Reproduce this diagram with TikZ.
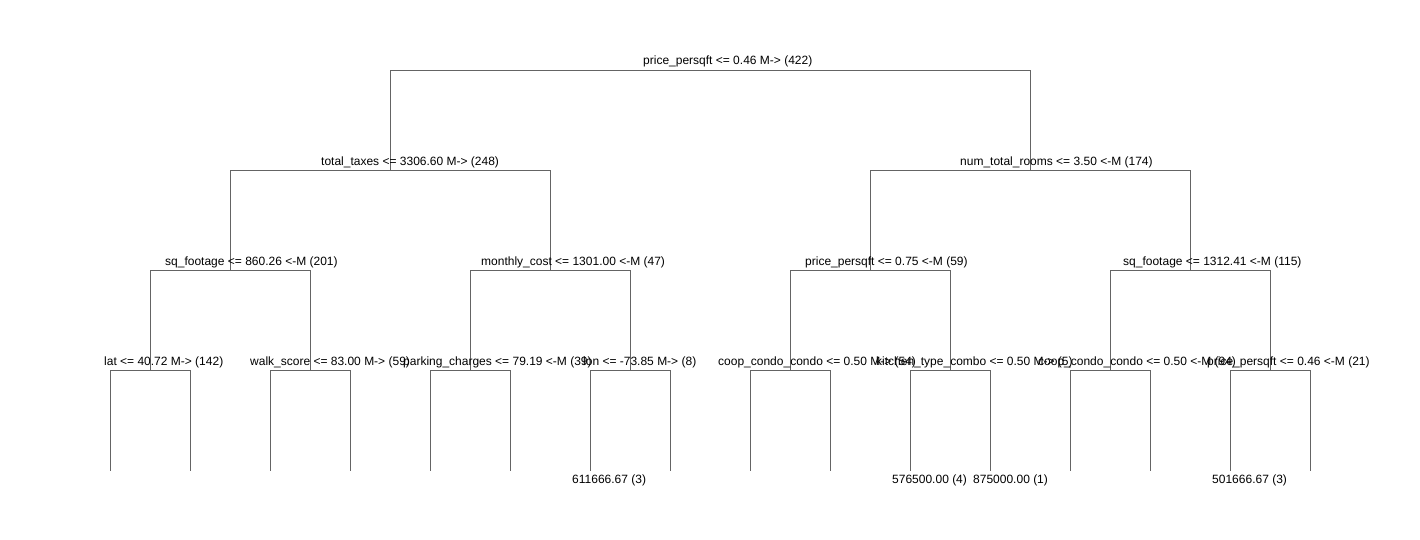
\documentclass[tikz,border=0pt]{standalone}
\usepackage{fontspec}
\setmainfont{Liberation Sans}
\definecolor{edgegray}{RGB}{100,100,100}
\begin{document}
\begin{tikzpicture}[x=1pt,y=-1pt,
  lbl/.style={anchor=base west,inner sep=0pt,font=\fontsize{12}{14}\selectfont,text=black},
  edge/.style={draw=edgegray,line width=0.9pt}]
\useasboundingbox[fill=white] (0,0) rectangle (1420,540);
% split points
\coordinate (n0) at (710.5,70.5);
\coordinate (n1) at (390.5,170.5);
\coordinate (n2) at (1030.5,170.5);
\coordinate (n11) at (230.5,270.5);
\coordinate (n12) at (550.5,270.5);
\coordinate (n21) at (870.5,270.5);
\coordinate (n22) at (1190.5,270.5);
\foreach \nm/\x in {a/150,b/310,c/470,d/630,e/790,f/950,g/1110,h/1270}{
  \coordinate (m\nm) at (\x.5,370.5);
  \coordinate (l\nm1) at ({\x-40+0.5},470.5);
  \coordinate (l\nm2) at ({\x+40+0.5},470.5);
}
% connectors
\draw[edge] (n0) -| (n1);
\draw[edge] (n0) -| (n2);
\draw[edge] (n1) -| (n11);
\draw[edge] (n1) -| (n12);
\draw[edge] (n2) -| (n21);
\draw[edge] (n2) -| (n22);
\draw[edge] (n11) -| (ma);
\draw[edge] (n11) -| (mb);
\draw[edge] (n12) -| (mc);
\draw[edge] (n12) -| (md);
\draw[edge] (n21) -| (me);
\draw[edge] (n21) -| (mf);
\draw[edge] (n22) -| (mg);
\draw[edge] (n22) -| (mh);
\foreach \nm in {a,b,c,d,e,f,g,h}{
  \draw[edge] (m\nm) -| (l\nm1);
  \draw[edge] (m\nm) -| (l\nm2);
}
% labels
\node[lbl] (t0) at (643,65) {price\_persqft <= 0.46 M-> (422)};
\node[lbl] (t1) at (321,165) {total\_taxes <= 3306.60 M-> (248)};
\node[lbl] (t2) at (960,165) {num\_total\_rooms <= 3.50 <-M (174)};
\node[lbl] (t11) at (165,265) {sq\_footage <= 860.26 <-M (201)};
\node[lbl] (t12) at (481,265) {monthly\_cost <= 1301.00 <-M (47)};
\node[lbl] (t21) at (805,265) {price\_persqft <= 0.75 <-M (59)};
\node[lbl] (t22) at (1123,265) {sq\_footage <= 1312.41 <-M (115)};
\node[lbl] (ta) at (104,365) {lat <= 40.72 M-> (142)};
\node[lbl] (tb) at (250,365) {walk\_score <= 83.00 M-> (59)};
\node[lbl] (tc) at (403,365) {parking\_charges <= 79.19 <-M (39)};
\node[lbl] (td) at (583,365) {lon <= -73.85 M-> (8)};
\node[lbl] (te) at (718,365) {coop\_condo\_condo <= 0.50 M-> (54)};
\node[lbl] (tf) at (876,365) {kitchen\_type\_combo <= 0.50 M-> (5)};
\node[lbl] (tg) at (1038,365) {coop\_condo\_condo <= 0.50 <-M (94)};
\node[lbl] (th) at (1207,365) {price\_persqft <= 0.46 <-M (21)};
% leaf values
\node[lbl] (vd1) at (572,483) {611666.67 (3)};
\node[lbl] (vf1) at (892,483) {576500.00 (4)};
\node[lbl] (vf2) at (973,483) {875000.00 (1)};
\node[lbl] (vh1) at (1212,483) {501666.67 (3)};
\end{tikzpicture}
\end{document}
